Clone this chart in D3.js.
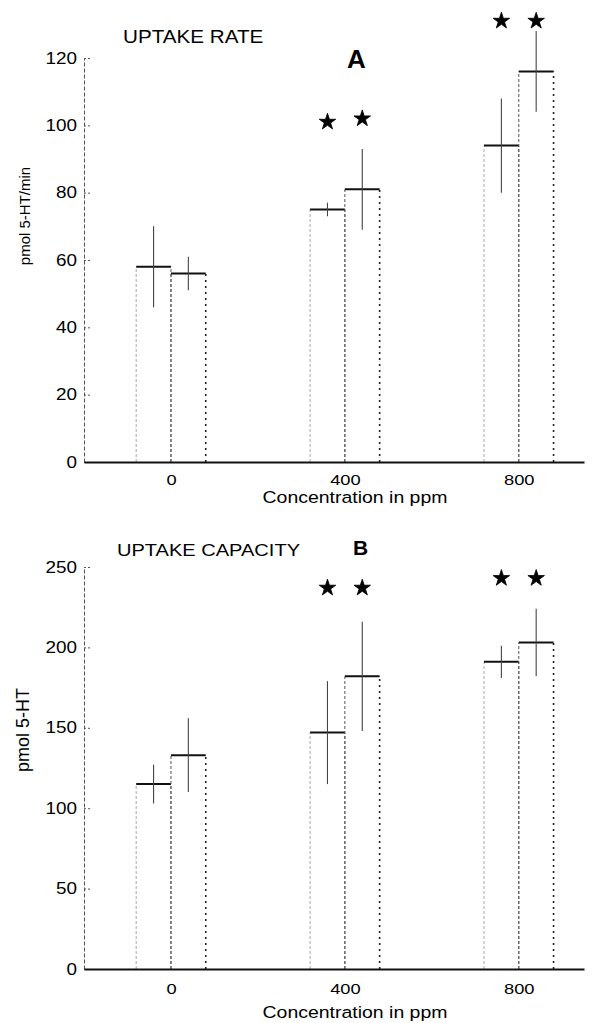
<!DOCTYPE html>
<meta charset="utf-8">
<style>

html, body {
  margin: 0;
  padding: 0;
  background: #fff;
}

svg {
  display: block;
  font-family: "Liberation Sans", Arial, sans-serif;
}

.bar-top {
  stroke: #111;
  stroke-width: 2px;
}

.bar-side {
  stroke: #666;
  stroke-width: 1px;
  stroke-dasharray: 3,2;
}

.err {
  stroke: #444;
  stroke-width: 1.1px;
}

</style>
<svg class="chart"></svg>
<script src="https://d3js.org/d3.v7.min.js"></script>
<script>

var width = 596;
var height = 1023;

// concentration groups (ppm), two bars per group
var concentrations = [0, 400, 800];
var xTicks = [0, 400, 800];

// panel A: uptake rate, pmol 5-HT/min
var rateMeans = [[58, 56], [75, 81], [94, 116]];
var rateErrors = [[12, 5], [2, 12], [14, 12]];
var rateStars = [[null, null], [101, 102], [131, 131]];
var rateTicks = [0, 20, 40, 60, 80, 100, 120];

// panel B: uptake capacity, pmol 5-HT
var capacityMeans = [[115, 133], [147, 182], [191, 203]];
var capacityErrors = [[12, 23], [32, 34], [10, 21]];
var capacityStars = [[null, null], [237, 237], [243, 243]];
var capacityTicks = [0, 50, 100, 150, 200, 250];

var barWidth = 80; // in ppm units
var stretch = 1.18; // the scan is a bit wider than tall
var fontFamily = '"Liberation Sans", Arial, sans-serif';

var svg = d3.select('svg.chart')
  .attr('width', width)
  .attr('height', height);

var x = d3.scaleLinear()
  .domain([-200, 950])
  .range([84, 584]);

var star = d3.symbol().type(d3.symbolStar).size(85);

function label(x0, y0, text, size, opts) {
  opts = opts || {};
  var t = svg.append('g')
      .attr('transform', 'translate(' + x0 + ',' + y0 + ')' + (opts.rotate ? ' rotate(-90)' : ''))
    .append('text')
      .attr('font-size', size)
      .attr('text-anchor', opts.anchor || 'start')
      .attr('font-weight', opts.bold ? 'bold' : null)
      .attr('fill', '#000')
      .text(text);
  if (!opts.rotate && !opts.bold) t.attr('transform', 'scale(' + stretch + ',1)');
  return t;
}

function drawPanel(cfg) {
  var y = d3.scaleLinear()
    .domain([0, cfg.max])
    .range([cfg.bottom, cfg.top]);

  var g = svg.append('g');

  // y axis, dashed with inward ticks
  var yAxis = g.append('g')
      .attr('transform', 'translate(' + x.range()[0] + ',0)')
      .call(d3.axisLeft(y).tickValues(cfg.ticks).tickSizeInner(-8).tickSizeOuter(0).tickPadding(6))
      .attr('font-family', fontFamily)
      .attr('font-size', 16)
      .attr('color', '#000');
  yAxis.select('.domain').attr('stroke', '#555').attr('stroke-dasharray', '4,2');
  yAxis.selectAll('.tick line').attr('stroke', '#555').attr('stroke-dasharray', '2,2');
  yAxis.selectAll('.tick text').attr('transform', 'scale(' + stretch + ',1)');

  cfg.means.forEach(function (pair, i) {
    var c = concentrations[i];
    pair.forEach(function (v, j) {
      var x0 = x(c - barWidth + j * barWidth);
      var x1 = x(c + j * barWidth);
      var top = y(v);

      g.append('line').attr('class', 'bar-side')
        .attr('x1', x0).attr('x2', x0).attr('y1', y(0)).attr('y2', top)
        .style('stroke', j === 0 ? '#aaa' : '#555');
      g.append('line').attr('class', 'bar-side')
        .attr('x1', x1).attr('x2', x1).attr('y1', y(0)).attr('y2', top)
        .style('stroke-dasharray', j === 1 ? '2,4' : null)
        .style('stroke-width', j === 1 ? 1.6 : null)
        .style('stroke', j === 1 ? '#222' : null);
      g.append('line').attr('class', 'bar-top')
        .attr('x1', x0).attr('x2', x1).attr('y1', top).attr('y2', top);

      var e = cfg.errors[i][j];
      var cx = (x0 + x1) / 2;
      if (e > 0) {
        g.append('line').attr('class', 'err')
          .attr('x1', cx).attr('x2', cx)
          .attr('y1', y(v - e)).attr('y2', y(v + e));
      }

      var s = cfg.stars[i][j];
      if (s != null) {
        g.append('path')
          .attr('d', star)
          .attr('fill', '#000')
          .attr('stroke', '#000')
          .attr('stroke-width', 0.8)
          .attr('transform', 'translate(' + cx + ',' + y(s) + ')');
      }
    });
  });

  // x axis, solid baseline, no tick marks
  var xAxis = g.append('g')
      .attr('transform', 'translate(0,' + cfg.bottom + ')')
      .call(d3.axisBottom(x).tickValues(xTicks).tickFormat(d3.format('d')).tickSize(0).tickSizeOuter(0).tickPadding(cfg.xPad))
      .attr('font-family', fontFamily)
      .attr('font-size', 15.5)
      .attr('color', '#000');
  xAxis.select('.domain').attr('stroke', '#111').attr('stroke-width', 2);
  xAxis.selectAll('.tick text').attr('transform', 'scale(' + stretch + ',1)');

  label(355, cfg.xLabelY, 'Concentration in ppm', 16.5, {anchor: 'middle'});
  label(cfg.yLabelX, cfg.yLabelY, cfg.yLabel, cfg.yLabelSize, {anchor: 'middle', rotate: true});
  label(cfg.titleX, cfg.titleY, cfg.title, cfg.titleSize);
  label(cfg.letterX, cfg.letterY, cfg.letter, cfg.letterSize, {bold: true});
}

drawPanel({
  means: rateMeans, errors: rateErrors, stars: rateStars, ticks: rateTicks,
  max: 120, top: 58, bottom: 462, xPad: 12, xLabelY: 503,
  yLabel: 'pmol 5-HT/min', yLabelX: 30, yLabelY: 216, yLabelSize: 15,
  title: 'UPTAKE RATE', titleX: 123, titleY: 43, titleSize: 17.5,
  letter: 'A', letterX: 347, letterY: 68, letterSize: 26
});

drawPanel({
  means: capacityMeans, errors: capacityErrors, stars: capacityStars, ticks: capacityTicks,
  max: 250, top: 567, bottom: 969, xPad: 14, xLabelY: 1018,
  yLabel: 'pmol 5-HT', yLabelX: 29, yLabelY: 730, yLabelSize: 18,
  title: 'UPTAKE CAPACITY', titleX: 117, titleY: 556, titleSize: 17,
  letter: 'B', letterX: 353, letterY: 555, letterSize: 21
});

</script>
